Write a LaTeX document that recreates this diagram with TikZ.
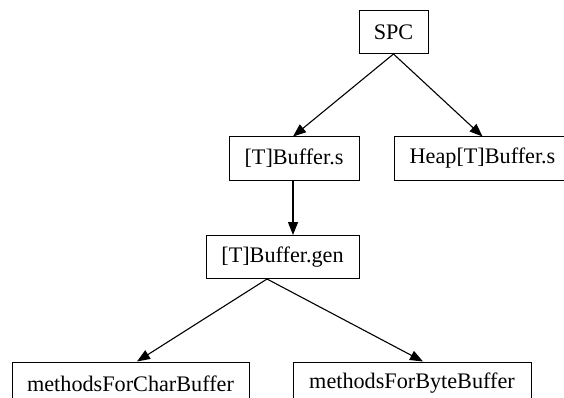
\documentclass[tikz,border=0pt]{standalone}
\usepackage{fontspec}
\setmainfont{Liberation Serif}
\usetikzlibrary{arrows.meta}
\begin{document}
\begin{tikzpicture}[x=1pt,y=-1pt,
  box/.style={draw, line width=1pt, rectangle, inner sep=0pt,
    font=\fontsize{22.2}{26}\selectfont, minimum height=43pt},
  edge/.style={line width=1.1pt, -{Triangle[length=13pt,width=10pt]}}]
\useasboundingbox (0,0) rectangle (564,398);
\clip (0,0) rectangle (564,398);
\fill[white] (0,0) rectangle (564,398);
% package tree
\node[box, minimum width=69pt]  (spc)   at (393.5,32)    {SPC};
\node[box, minimum width=130pt] (tbs)   at (294,158.5)   {[T]Buffer.s};
\node[box, minimum width=177pt] (heap)  at (482.5,158.5) {Heap[T]Buffer.s};
\node[box, minimum width=153pt] (gen)   at (282.5,257)   {[T]Buffer.gen};
\node[box, minimum width=237pt] (mchar) at (130.5,383.5) {methodsForCharBuffer};
\node[box, minimum width=238pt] (mbyte) at (412,383.5)   {methodsForByteBuffer};
% dependencies
\draw[edge] (spc.south) -- ([xshift=-1pt]tbs.north);
\draw[edge] (spc.south) -- (heap.north);
\draw[edge] ([xshift=-1pt]tbs.south) -- ([xshift=10.5pt]gen.north);
\draw[edge] ([xshift=-15.5pt]gen.south) -- ([xshift=6.5pt]mchar.north);
\draw[edge] ([xshift=-15.5pt]gen.south) -- ([xshift=11pt]mbyte.north);
\end{tikzpicture}
\end{document}
